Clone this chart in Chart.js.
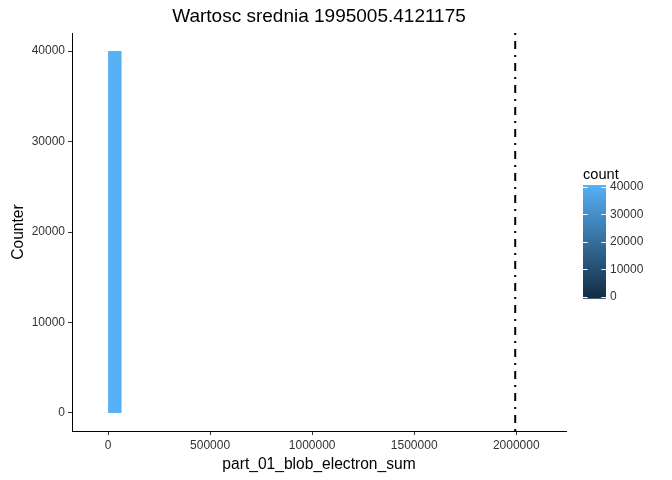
<!DOCTYPE html>
<html>
<head>
<meta charset="utf-8">
<script src="https://cdn.jsdelivr.net/npm/chart.js@4"></script>
<style>
  html, body { margin: 0; padding: 0; background: #ffffff; }
  #wrap { position: relative; width: 672px; height: 480px; overflow: hidden; }
  #mainBox { position: absolute; left: 0; top: 0; width: 672px; height: 480px; }
  #legBox { position: absolute; left: 583px; top: 163px; width: 80px; height: 147px; }
</style>
</head>
<body>
<div id="wrap">
  <div id="mainBox"><canvas id="main" width="672" height="480"></canvas></div>
  <div id="legBox"><canvas id="leg" width="80" height="147"></canvas></div>
</div>
<script>
// ---- data ----
const binLeft = [0];
const binRight = [67200];
const binCount = [40000];
const meanValue = 1995005.4121175;
const xTickValues = [0, 500000, 1000000, 1500000, 2000000];
const yTickValues = [0, 10000, 20000, 30000, 40000];
const legendTickValues = [0, 10000, 20000, 30000, 40000];
const chartTitle = 'Wartosc srednia 1995005.4121175';
const xTitle = 'part_01_blob_electron_sum';
const yTitle = 'Counter';
const legendTitle = 'count';

// ---- style ----
const FONT = "'Liberation Sans', Arial, sans-serif";
const LOW = [0x13, 0x2B, 0x43];
const HIGH = [0x56, 0xB1, 0xF7];
const maxCount = Math.max(...binCount);
const barInset = 750; // colour bar extends slightly past its end ticks
function fillFor(c) {
  const t = Math.max(0, Math.min(1, maxCount ? c / maxCount : 0));
  const v = LOW.map((l, i) => Math.round(l + (HIGH[i] - l) * t));
  return `rgb(${v[0]},${v[1]},${v[2]})`;
}

// histogram datasets (one filled outline per bin)
const histSets = binLeft.map((l, i) => ({
  type: 'line',
  data: [
    {x: l, y: 0}, {x: l, y: binCount[i]},
    {x: binRight[i], y: binCount[i]}, {x: binRight[i], y: 0}
  ],
  fill: 'origin',
  backgroundColor: fillFor(binCount[i]),
  borderWidth: 0,
  borderColor: 'rgba(0,0,0,0)',
  pointRadius: 0,
  tension: 0,
  order: 2
}));

const vlineSet = {
  type: 'line',
  data: [{x: meanValue, y: 42000}, {x: meanValue, y: -2000}],
  borderColor: '#000000',
  borderWidth: 2,
  borderDash: [2, 6, 8, 6],
  pointRadius: 0,
  fill: false,
  order: 1
};

new Chart(document.getElementById('main'), {
  type: 'line',
  data: { datasets: [...histSets, vlineSet] },
  options: {
    responsive: false,
    animation: false,
    layout: { padding: { left: 0, right: 34, top: 0, bottom: 0 } },
    plugins: {
      legend: { display: false },
      tooltip: { enabled: false },
      title: {
        display: true,
        text: chartTitle,
        color: '#000000',
        font: { family: FONT, size: 19, weight: 'normal' },
        padding: { top: 5, bottom: 5.2 }
      }
    },
    scales: {
      x: {
        type: 'linear',
        min: -176600,
        max: 2243800,
        afterBuildTicks: (s) => { s.ticks = xTickValues.map(v => ({value: v})); },
        afterFit: (s) => { s.height = 49; },
        grid: { drawOnChartArea: false, drawTicks: true, tickLength: 4, color: '#333333' },
        border: { display: true, color: '#000000', width: 1 },
        ticks: {
          color: '#333333', padding: 3, maxRotation: 0, autoSkip: false,
          font: { family: FONT, size: 12 },
          callback: (v) => String(v)
        },
        title: {
          display: true, text: xTitle, color: '#000000',
          font: { family: FONT, size: 15.6 },
          padding: { top: 0, bottom: 5.6 }
        }
      },
      y: {
        type: 'linear',
        position: 'left',
        min: -2000,
        max: 42000,
        afterBuildTicks: (s) => { s.ticks = yTickValues.map(v => ({value: v})); },
        afterFit: (s) => { s.width = 72; },
        grid: { drawOnChartArea: false, drawTicks: true, tickLength: 4, color: '#333333' },
        border: { display: true, color: '#000000', width: 1 },
        ticks: {
          color: '#333333', padding: 3, autoSkip: false,
          font: { family: FONT, size: 12 },
          callback: (v) => String(v)
        },
        title: {
          display: true, text: yTitle, color: '#000000',
          font: { family: FONT, size: 15.6 },
          padding: { top: 9.6, bottom: 0 }
        }
      },
      yR: {
        type: 'linear',
        position: 'right',
        display: true,
        min: 0, max: 1,
        afterFit: (s) => { s.width = 72; },
        grid: { display: false, drawTicks: false },
        border: { display: false },
        ticks: { display: false }
      }
    }
  }
});

// ---- colour bar legend ----
const legTicksPlugin = {
  id: 'legTicks',
  afterDatasetsDraw(chart) {
    const {ctx, chartArea: a, scales: {y}} = chart;
    ctx.save();
    ctx.strokeStyle = '#ffffff';
    ctx.lineWidth = 1;
    legendTickValues.forEach(v => {
      const py = Math.round(y.getPixelForValue(v)) + 0.5;
      const w = (a.right - a.left) / 5;
      ctx.beginPath();
      ctx.moveTo(a.left, py); ctx.lineTo(a.left + w, py);
      ctx.moveTo(a.right - w, py); ctx.lineTo(a.right, py);
      ctx.stroke();
    });
    ctx.restore();
  }
};

new Chart(document.getElementById('leg'), {
  type: 'bar',
  data: {
    labels: [''],
    datasets: [{
      data: [[-barInset, maxCount + barInset]],
      barPercentage: 1,
      categoryPercentage: 1,
      borderWidth: 0,
      backgroundColor: (ctx) => {
        const chart = ctx.chart;
        const y = chart.scales.y;
        if (!chart.chartArea || !y) return fillFor(maxCount);
        const g = chart.ctx.createLinearGradient(0, y.getPixelForValue(-barInset), 0, y.getPixelForValue(maxCount + barInset));
        g.addColorStop(0, fillFor(0));
        g.addColorStop(0.5, fillFor(maxCount / 2));
        g.addColorStop(1, fillFor(maxCount));
        return g;
      }
    }]
  },
  options: {
    responsive: false,
    animation: false,
    layout: { padding: { left: 0, right: 0, top: 0, bottom: 0 } },
    plugins: {
      legend: { display: false },
      tooltip: { enabled: false },
      title: {
        display: true, text: legendTitle, align: 'start', color: '#000000',
        font: { family: FONT, size: 14.6, weight: 'normal' },
        padding: { top: 3, bottom: 1.5 }
      }
    },
    scales: {
      x: { display: false },
      y: {
        position: 'right',
        min: -barInset, max: maxCount + barInset,
        afterBuildTicks: (s) => { s.ticks = legendTickValues.map(v => ({value: v})); },
        afterFit: (s) => { s.width = 57; },
        grid: { display: false, drawTicks: false },
        border: { display: false },
        ticks: {
          color: '#333333', padding: 4, autoSkip: false,
          font: { family: FONT, size: 12 },
          callback: (v) => String(v)
        }
      }
    }
  },
  plugins: [legTicksPlugin]
});
</script>
</body>
</html>
